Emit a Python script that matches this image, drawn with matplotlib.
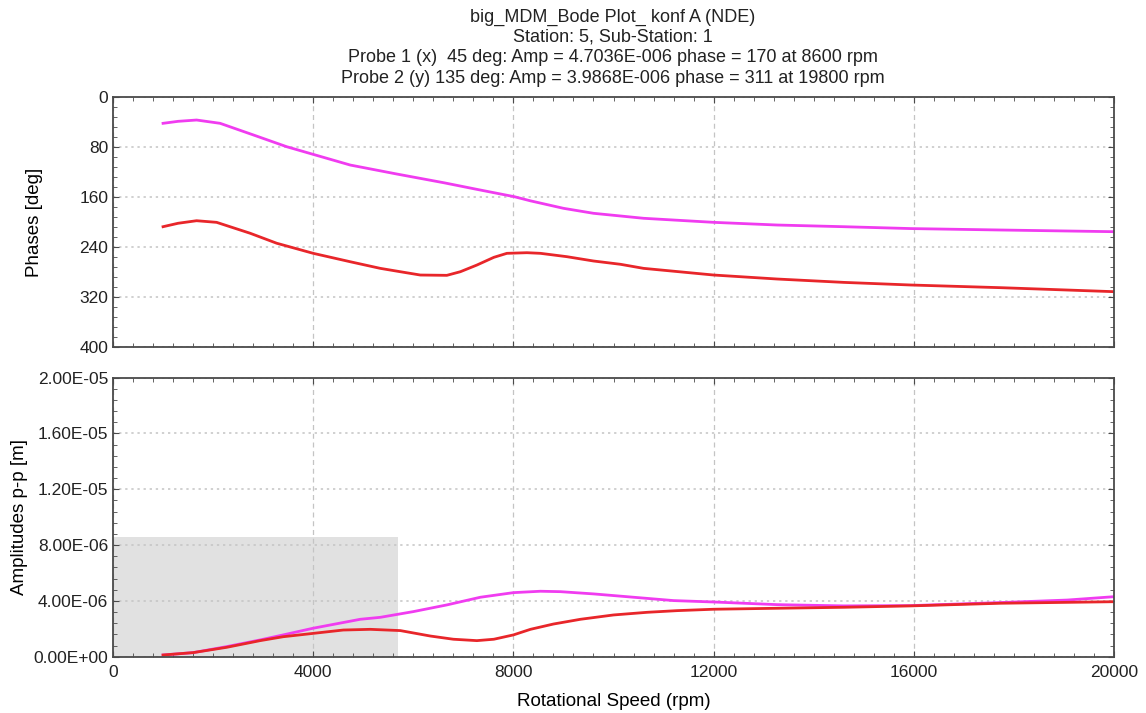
import matplotlib
matplotlib.use("Agg")
import matplotlib.pyplot as plt
import numpy as np
from matplotlib.patches import Rectangle
from matplotlib.ticker import MultipleLocator

plt.rcParams["font.family"] = ["Liberation Sans", "DejaVu Sans"]

# values
rpm_p1_phase = [1000, 1300, 1670, 2140, 2810, 3470, 4000, 4740, 5670, 6610, 7270, 8020, 8340,
                9000, 9600, 10600, 12000, 13270, 14600, 15940, 17740, 20000]
phase_p1 = [41.7, 38.5, 36.4, 41.7, 60.5, 79.2, 91.5, 108.6, 123, 137, 147.6, 159.4, 166,
            178, 186, 194, 200.5, 204.8, 207.5, 210.5, 212.8, 215.5]

rpm_p2_phase = [1000, 1300, 1670, 2070, 2740, 3270, 4000, 4740, 5340, 5740, 6140, 6670,
                6940, 7270, 7610, 7870, 8270, 8540, 9070, 9600, 10140, 10600, 12000,
                13270, 14600, 15940, 17740, 20000]
phase_p2 = [207.5, 202, 197.9, 200.5, 218, 234, 250.2, 263.7, 274.3, 279.7, 285, 285.5,
            279.7, 269, 256.6, 250.2, 249.2, 250.2, 255.6, 262.5, 267.8, 274.3, 285,
            291.4, 296.8, 301, 305.3, 311.7]

rpm_p1_amp = [1000, 1600, 2270, 2940, 3400, 4000, 4940, 5340, 6000, 6670, 7340, 8000,
              8540, 8940, 9600, 10400, 11200, 12000, 13270, 14600, 15940, 17740, 19070, 20000]
amp_p1 = [0.12, 0.29, 0.72, 1.2, 1.56, 2.04, 2.68, 2.82, 3.23, 3.71, 4.26, 4.59,
          4.69, 4.66, 4.5, 4.26, 4.02, 3.92, 3.73, 3.64, 3.66, 3.88, 4.06, 4.3]

rpm_p2_amp = [1000, 1600, 2270, 2940, 3400, 4000, 4600, 5140, 5740, 6340, 6800, 7270,
              7610, 8000, 8340, 8800, 9340, 10000, 10670, 11270, 12000, 13270, 14600,
              15940, 17740, 20000]
amp_p2 = [0.12, 0.29, 0.67, 1.15, 1.43, 1.67, 1.91, 1.96, 1.87, 1.48, 1.25, 1.15,
          1.25, 1.56, 1.96, 2.34, 2.68, 2.99, 3.18, 3.3, 3.4, 3.47, 3.54,
          3.64, 3.83, 3.94]

shade_rpm = 5700
shade_amp = 8.56e-6

phase_ticks = [0, 80, 160, 240, 320, 400]
amp_ticks = [0, 4e-6, 8e-6, 1.2e-5, 1.6e-5, 2e-5]
amp_tick_labels = ["0.00E+00", "4.00E-06", "8.00E-06", "1.20E-05", "1.60E-05", "2.00E-05"]
rpm_ticks = [0, 4000, 8000, 12000, 16000, 20000]

title_lines = [
    "big_MDM_Bode Plot_ konf A (NDE)",
    "Station: 5, Sub-Station: 1",
    "Probe 1 (x)  45 deg: Amp = 4.7036E-006 phase = 170 at 8600 rpm",
    "Probe 2 (y) 135 deg: Amp = 3.9868E-006 phase = 311 at 19800 rpm",
]

MAGENTA = "#f03cf0"
RED = "#e8262a"
FRAME = "#4a4a4a"
GRID = "#c4c4c4"

fig = plt.figure(figsize=(11.46, 7.13), dpi=100)
ax1 = fig.add_axes([0.0986, 0.5137, 0.8735, 0.3498])
ax2 = fig.add_axes([0.0986, 0.0790, 0.8735, 0.3913])


def style(ax):
    for s in ax.spines.values():
        s.set_color(FRAME)
        s.set_linewidth(1.3)
    ax.set_xlim(0, 20000)
    ax.set_xticks(rpm_ticks)
    ax.xaxis.set_minor_locator(MultipleLocator(400))
    ax.tick_params(which="both", direction="in", top=True, right=True, colors=FRAME,
                   labelcolor="#222222", labelsize=12.5)
    ax.tick_params(which="major", length=4)
    ax.tick_params(which="minor", length=3)
    ax.xaxis.grid(True, color=GRID, linestyle=(0, (4, 3)), linewidth=0.9)
    ax.yaxis.grid(True, color=GRID, linestyle=(0, (1.5, 2.5)), linewidth=1.1)
    ax.set_axisbelow(True)


style(ax1)
ax1.plot(rpm_p1_phase, phase_p1, color=MAGENTA, linewidth=2)
ax1.plot(rpm_p2_phase, phase_p2, color=RED, linewidth=2)
ax1.set_ylim(400, 0)
ax1.set_yticks(phase_ticks)
ax1.yaxis.set_minor_locator(MultipleLocator(16))
ax1.tick_params(axis="x", labelbottom=False)
ax1.set_ylabel("Phases [deg]", fontsize=13.5, labelpad=26)

style(ax2)
ax2.add_patch(Rectangle((0, 0), shade_rpm, shade_amp, facecolor="#e1e1e1",
                        edgecolor="none", zorder=0.5))
ax2.plot(rpm_p1_amp, np.array(amp_p1) * 1e-6, color=MAGENTA, linewidth=2)
ax2.plot(rpm_p2_amp, np.array(amp_p2) * 1e-6, color=RED, linewidth=2)
ax2.set_ylim(0, 2e-5)
ax2.set_yticks(amp_ticks)
ax2.set_yticklabels(amp_tick_labels)
ax2.yaxis.set_minor_locator(MultipleLocator(8e-7))
ax2.set_ylabel("Amplitudes p-p [m]", fontsize=13.5, labelpad=4)
ax2.set_xlabel("Rotational Speed (rpm)", fontsize=13.5, labelpad=9)
ax2.tick_params(axis="x", pad=6)

for i, line in enumerate(title_lines):
    fig.text(0.535, 1 - (17 + i * 20.5) / 713, line, ha="center", va="center",
             fontsize=13, color="#222222")

fig.savefig("out.png", dpi=100)
